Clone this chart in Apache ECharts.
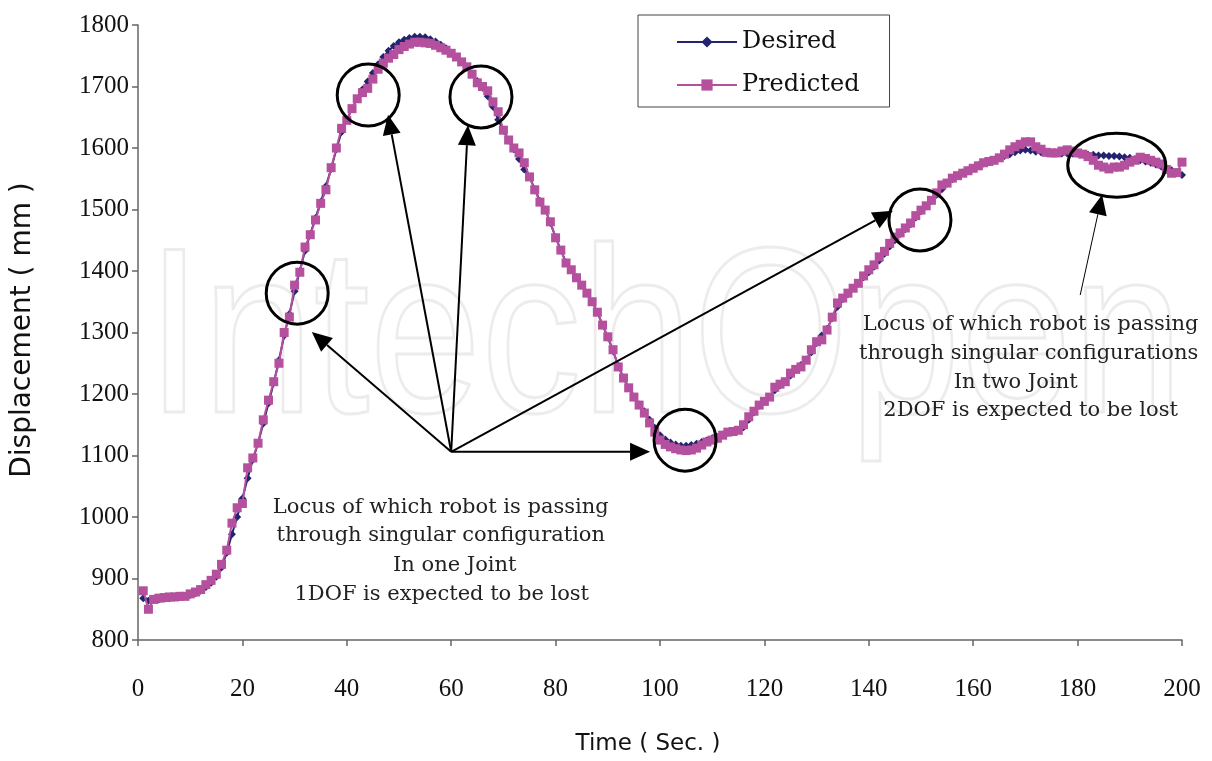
<!DOCTYPE html>
<html>
<head>
<meta charset="utf-8">
<title>Displacement vs Time</title>
<script src="https://cdn.jsdelivr.net/npm/echarts@6/dist/echarts.min.js"></script>
<style>
  html, body { margin: 0; padding: 0; background: #fff; }
  #chart { width: 1212px; height: 761px; }
</style>
</head>
<body>
<div id="chart"></div>
<script>
// Time samples (s)
const timeSec = Array.from({ length: 200 }, (_, i) => i + 1);

// Desired trajectory (mm)
const desired = [
  868, 864, 865, 866, 867, 868, 869, 870, 871, 873,
  876, 880, 886, 893, 903, 918, 942, 972, 1000, 1030,
  1063, 1093, 1120, 1152, 1185, 1218, 1255, 1295, 1330, 1367,
  1400, 1433, 1460, 1486, 1512, 1538, 1566, 1598, 1626, 1646,
  1664, 1680, 1695, 1708, 1722, 1736, 1748, 1758, 1766, 1772,
  1776, 1779, 1781, 1781, 1780, 1777, 1773, 1768, 1762, 1755,
  1748, 1740, 1731, 1721, 1709, 1698, 1684, 1667, 1646, 1628,
  1612, 1598, 1582, 1565, 1553, 1533, 1514, 1500, 1478, 1455,
  1434, 1414, 1402, 1390, 1377, 1364, 1350, 1333, 1312, 1292,
  1270, 1246, 1226, 1210, 1196, 1183, 1172, 1158, 1145, 1133,
  1126, 1121, 1118, 1116, 1116, 1117, 1119, 1122, 1125, 1128,
  1130, 1134, 1137, 1139, 1141, 1146, 1158, 1170, 1181, 1188,
  1195, 1206, 1214, 1220, 1230, 1240, 1247, 1256, 1268, 1283,
  1295, 1306, 1323, 1342, 1354, 1362, 1372, 1380, 1390, 1398,
  1407, 1417, 1428, 1440, 1450, 1460, 1468, 1476, 1487, 1497,
  1505, 1514, 1524, 1533, 1542, 1549, 1555, 1560, 1564, 1568,
  1572, 1575, 1578, 1581, 1584, 1587, 1590, 1593, 1596, 1597,
  1596, 1594, 1593, 1592, 1591, 1591, 1591, 1591, 1591, 1591,
  1590, 1589, 1589, 1588, 1588, 1587, 1587, 1586, 1585, 1584,
  1582, 1580, 1578, 1576, 1573, 1570, 1567, 1564, 1560, 1556
];

// Network prediction (mm)
const predicted = [
  880, 850, 866, 868, 869, 870, 870, 871, 871, 875,
  878, 882, 890, 897, 907, 923, 946, 990, 1015, 1022,
  1080, 1096, 1120, 1158, 1190, 1220, 1250, 1300, 1325, 1377,
  1398, 1439, 1459, 1483, 1510, 1532, 1568, 1600, 1632, 1645,
  1664, 1680, 1690, 1697, 1712, 1728, 1738, 1746, 1752, 1760,
  1765, 1769, 1772, 1772, 1771, 1770, 1767, 1763, 1759, 1754,
  1748, 1740, 1732, 1720, 1706, 1700, 1693, 1675, 1659, 1629,
  1613, 1600, 1592, 1576, 1553, 1532, 1512, 1499, 1480, 1454,
  1434, 1413, 1402, 1389, 1377, 1364, 1350, 1333, 1312, 1293,
  1272, 1244, 1226, 1210, 1195, 1182, 1169, 1153, 1138, 1125,
  1118, 1114, 1111, 1109, 1108, 1109, 1112, 1117, 1122, 1125,
  1128, 1133, 1138, 1139, 1141, 1150, 1163, 1172, 1182, 1188,
  1195, 1211, 1216, 1220, 1234, 1240, 1244, 1255, 1272, 1285,
  1288, 1304, 1325, 1348, 1356, 1364, 1372, 1380, 1392, 1402,
  1410, 1423, 1432, 1445, 1455, 1462, 1470, 1478, 1490, 1499,
  1506, 1515, 1527, 1540, 1543, 1551, 1555, 1559, 1563, 1567,
  1571, 1576, 1578, 1580, 1584, 1590, 1597, 1602, 1606, 1610,
  1610, 1602, 1598, 1593, 1592, 1592, 1595, 1597, 1595, 1592,
  1590, 1586, 1580, 1572, 1569, 1566, 1569, 1569, 1572, 1577,
  1580, 1585, 1583, 1580, 1577, 1574, 1565, 1559, 1560, 1577
];

const seriesNames = ['Desired', 'Predicted'];
const xTitle = 'Time ( Sec. )';
const yTitle = 'Displacement ( mm )';

// Singular-configuration loci, in axis units
const oneJointLoci = [[30.5, 1364], [44.1, 1686], [65.7, 1683], [104.8, 1125], [149.8, 1483]];
const twoJointLocus = [187.5, 1572];
const arrowOrigin = [60, 1106];
const arrowTips = [[33.3, 1301], [47.9, 1654], [63.2, 1637], [98.1, 1106], [144.6, 1498]];
const twoJointArrow = [[180.5, 1361], [184.7, 1524]];

const noteOne = ['Locus of which robot is passing', 'through singular configuration', 'In one Joint', '1DOF is expected to be lost'];
const noteTwo = ['Locus of which robot is passing', 'through singular configurations', 'In two Joint', '2DOF is expected to be lost'];

const serif = '"Liberation Serif", "DejaVu Serif", serif';
const wideSerif = '"DejaVu Serif", "Liberation Serif", serif';
const sans = '"DejaVu Sans", "Liberation Sans", sans-serif';
const navy = '#23236e';
const magenta = '#b4509e';

const chart = echarts.init(document.getElementById('chart'), null, { renderer: 'canvas' });

chart.setOption({
  animation: false,
  backgroundColor: '#ffffff',
  grid: { left: 138, right: 30, top: 25, bottom: 121, containLabel: false },
  xAxis: {
    type: 'value', min: 0, max: 200, interval: 20,
    axisLine: { show: true, lineStyle: { color: '#666', width: 1.5 } },
    axisTick: { show: true, inside: false, length: 6, lineStyle: { color: '#666', width: 1.5 } },
    axisLabel: { fontFamily: serif, fontSize: 25, color: '#111', margin: 37 },
    splitLine: { show: false }
  },
  yAxis: {
    type: 'value', min: 800, max: 1800, interval: 100,
    axisLine: { show: true, lineStyle: { color: '#666', width: 1.5 } },
    axisTick: { show: true, inside: false, length: 6, lineStyle: { color: '#666', width: 1.5 } },
    axisLabel: { fontFamily: serif, fontSize: 25, color: '#111', margin: 9,
      formatter: v => String(v) },
    splitLine: { show: false }
  },
  legend: {
    orient: 'vertical', left: 638, top: 15,
    data: seriesNames,
    itemWidth: 60, itemHeight: 14, itemGap: 19,
    padding: [15, 30, 10, 38],
    backgroundColor: '#fff', borderColor: '#444', borderWidth: 1,
    textStyle: { fontFamily: wideSerif, fontSize: 24, color: '#111' }
  },
  series: [
    {
      name: seriesNames[0], type: 'line',
      data: timeSec.map((t, i) => [t, desired[i]]),
      symbol: 'diamond', symbolSize: 8, showAllSymbol: true,
      lineStyle: { color: navy, width: 2 },
      itemStyle: { color: navy },
      z: 2
    },
    {
      name: seriesNames[1], type: 'line',
      data: timeSec.map((t, i) => [t, predicted[i]]),
      symbol: 'rect', symbolSize: 9, showAllSymbol: true,
      lineStyle: { color: magenta, width: 2 },
      itemStyle: { color: magenta },
      z: 3
    }
  ]
});

// Annotation layer: titles, circles, arrows and notes
function px(p) { return chart.convertToPixel({ gridIndex: 0 }, p); }

function arrow(from, to, width, headLen, headHalf) {
  const a = px(from), b = px(to);
  const dx = b[0] - a[0], dy = b[1] - a[1];
  const len = Math.hypot(dx, dy);
  const ux = dx / len, uy = dy / len;
  const bx = b[0] - ux * headLen, by = b[1] - uy * headLen;
  return [
    { type: 'line', shape: { x1: a[0], y1: a[1], x2: bx, y2: by },
      style: { stroke: '#000', lineWidth: width }, z: 20 },
    { type: 'polygon', shape: { points: [
        [b[0], b[1]],
        [bx - uy * headHalf, by + ux * headHalf],
        [bx + uy * headHalf, by - ux * headHalf]
      ] }, style: { fill: '#000' }, z: 20 }
  ];
}

const graphics = [];

// Faint publisher mark behind the plot
graphics.push({
  type: 'text', x: 665, y: 465, z: -10, scaleX: 0.85, silent: true,
  style: {
    text: 'IntechOpen', font: '200 236px "Liberation Sans", sans-serif',
    fill: 'rgba(0,0,0,0)', stroke: '#ececec', lineWidth: 3,
    textAlign: 'center', textVerticalAlign: 'bottom'
  }
});

// Axis titles
graphics.push({
  type: 'text', x: 648, y: 744, z: 10,
  style: { text: xTitle, font: '23px ' + sans, fill: '#111', textAlign: 'center', textVerticalAlign: 'middle' }
});
graphics.push({
  type: 'text', x: 23, y: 330, rotation: Math.PI / 2, z: 10,
  style: { text: yTitle, font: '28px ' + sans, fill: '#111', textAlign: 'center', textVerticalAlign: 'middle' }
});

oneJointLoci.forEach(p => {
  const c = px(p);
  graphics.push({ type: 'circle', shape: { cx: c[0], cy: c[1], r: 31 },
    style: { fill: 'none', stroke: '#000', lineWidth: 3 }, z: 20 });
});
const e = px(twoJointLocus);
graphics.push({ type: 'ellipse', shape: { cx: e[0], cy: e[1], rx: 49, ry: 32 },
  style: { fill: 'none', stroke: '#000', lineWidth: 3 }, z: 20 });

arrowTips.forEach(t => graphics.push(...arrow(arrowOrigin, t, 2, 20, 9)));
graphics.push(...arrow(twoJointArrow[0], twoJointArrow[1], 1, 20, 9));

const noteFont = '21px ' + wideSerif;
const o1 = px([58, 0]);
const leftCenters = [441, 441, 455, 442];
const leftYs = [508, 536, 566, 595];
noteOne.forEach((s, i) => graphics.push({
  type: 'text', x: leftCenters[i] - 441 + o1[0], y: leftYs[i], z: 15,
  style: { text: s, font: noteFont, fill: '#222', textAlign: 'center', textVerticalAlign: 'middle' }
}));
const o2 = px([171, 0]);
const rightCenters = [1030, 1028, 1015, 1030];
const rightYs = [325, 354, 383, 411];
noteTwo.forEach((s, i) => graphics.push({
  type: 'text', x: rightCenters[i] - 1030 + o2[0], y: rightYs[i], z: 15,
  style: { text: s, font: noteFont, fill: '#222', textAlign: 'center', textVerticalAlign: 'middle' }
}));

chart.setOption({ graphic: graphics });
</script>
</body>
</html>
